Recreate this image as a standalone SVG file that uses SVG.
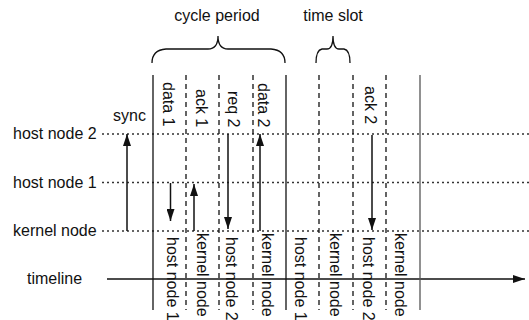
<svg xmlns="http://www.w3.org/2000/svg" width="529" height="320" viewBox="0 0 529 320">
  <defs>
    <marker id="head" viewBox="0 0 12 8" refX="12" refY="4" markerWidth="12" markerHeight="8" markerUnits="userSpaceOnUse" orient="auto">
      <path d="M0,0 L12,4 L0,8 Z" fill="#111"/>
    </marker>
  </defs>
  <style>
    text { font-family: "Liberation Sans", Arial, sans-serif; font-size: 16px; fill: #111; }
    .dot { stroke: #333; stroke-width: 1.4; stroke-dasharray: 2 3; fill: none; }
    .solid { stroke: #111; stroke-width: 1.3; fill: none; }
    .dash { stroke: #111; stroke-width: 1.3; stroke-dasharray: 5 4; fill: none; }
    .brace { stroke: #111; stroke-width: 1.3; fill: none; }
    .msg { stroke: #111; stroke-width: 1.5; fill: none; marker-end: url(#head); }
  </style>

  <!-- titles and braces -->
  <g id="cycle-period">
    <text x="217" y="21" text-anchor="middle">cycle period</text>
    <path class="brace" d="M152,63 Q152,50 166,49 L208,49 Q218,49 218,36 Q218,49 228,49 L271,49 Q285,50 285,63"/>
  </g>
  <g id="time-slot">
    <text x="333" y="21" text-anchor="middle">time slot</text>
    <path class="brace" d="M316,63 Q316,50 322,49 L327,49 Q333,49 333,36 Q333,49 339,49 L344,49 Q350,50 350,63"/>
  </g>

  <!-- node rows -->
  <g id="host-node-2">
    <text x="13" y="139">host node 2</text>
    <line class="dot" x1="102" y1="134" x2="529" y2="134"/>
  </g>
  <g id="host-node-1">
    <text x="13" y="188">host node 1</text>
    <line class="dot" x1="102" y1="182.5" x2="529" y2="182.5"/>
  </g>
  <g id="kernel-node">
    <text x="13" y="236">kernel node</text>
    <line class="dot" x1="102" y1="231" x2="529" y2="231"/>
  </g>
  <g id="timeline">
    <text x="27" y="284">timeline</text>
    <line class="solid" x1="107" y1="279" x2="525" y2="279" style="stroke-width:1.5" marker-end="url(#head)"/>
  </g>

  <!-- slot boundaries -->
  <g id="slots">
    <line class="solid" x1="153" y1="75" x2="153" y2="310"/>
    <line class="dash" x1="186" y1="75" x2="186" y2="310"/>
    <line class="dash" x1="219" y1="75" x2="219" y2="310"/>
    <line class="dash" x1="253" y1="75" x2="253" y2="310"/>
    <line class="solid" x1="286" y1="75" x2="286" y2="310"/>
    <line class="dash" x1="319" y1="75" x2="319" y2="310"/>
    <line class="dash" x1="353" y1="75" x2="353" y2="310"/>
    <line class="dash" x1="386" y1="75" x2="386" y2="310"/>
    <line class="solid" x1="420" y1="75" x2="420" y2="310" style="stroke:#555"/>
  </g>

  <!-- message labels -->
  <g id="message-labels">
    <text x="163" y="82" transform="rotate(90 163 82)">data 1</text>
    <text x="196" y="89" transform="rotate(90 196 89)">ack 1</text>
    <text x="228" y="91" transform="rotate(90 228 91)">req 2</text>
    <text x="258" y="83" transform="rotate(90 258 83)">data 2</text>
    <text x="365" y="86" transform="rotate(90 365 86)">ack 2</text>
    <text x="113" y="121">sync</text>
  </g>

  <!-- slot owner labels -->
  <g id="slot-labels">
    <text x="167" y="237" transform="rotate(90 167 237)">host node 1</text>
    <text x="197" y="233" transform="rotate(90 197 233)">kernel node</text>
    <text x="226" y="237" transform="rotate(90 226 237)">host node 2</text>
    <text x="262" y="233" transform="rotate(90 262 233)">kernel node</text>
    <text x="295" y="237" transform="rotate(90 295 237)">host node 1</text>
    <text x="330" y="233" transform="rotate(90 330 233)">kernel node</text>
    <text x="363" y="237" transform="rotate(90 363 237)">host node 2</text>
    <text x="395" y="233" transform="rotate(90 395 233)">kernel node</text>
  </g>

  <!-- messages -->
  <g id="connectors">
    <line class="msg" x1="127" y1="231" x2="127" y2="134"/>
    <line class="msg" x1="170.5" y1="183" x2="170.5" y2="221"/>
    <line class="msg" x1="194" y1="231" x2="194" y2="184"/>
    <line class="msg" x1="228" y1="134" x2="228" y2="229"/>
    <line class="msg" x1="260" y1="231" x2="260" y2="134"/>
    <line class="msg" x1="372" y1="135" x2="372" y2="230"/>
  </g>
</svg>
